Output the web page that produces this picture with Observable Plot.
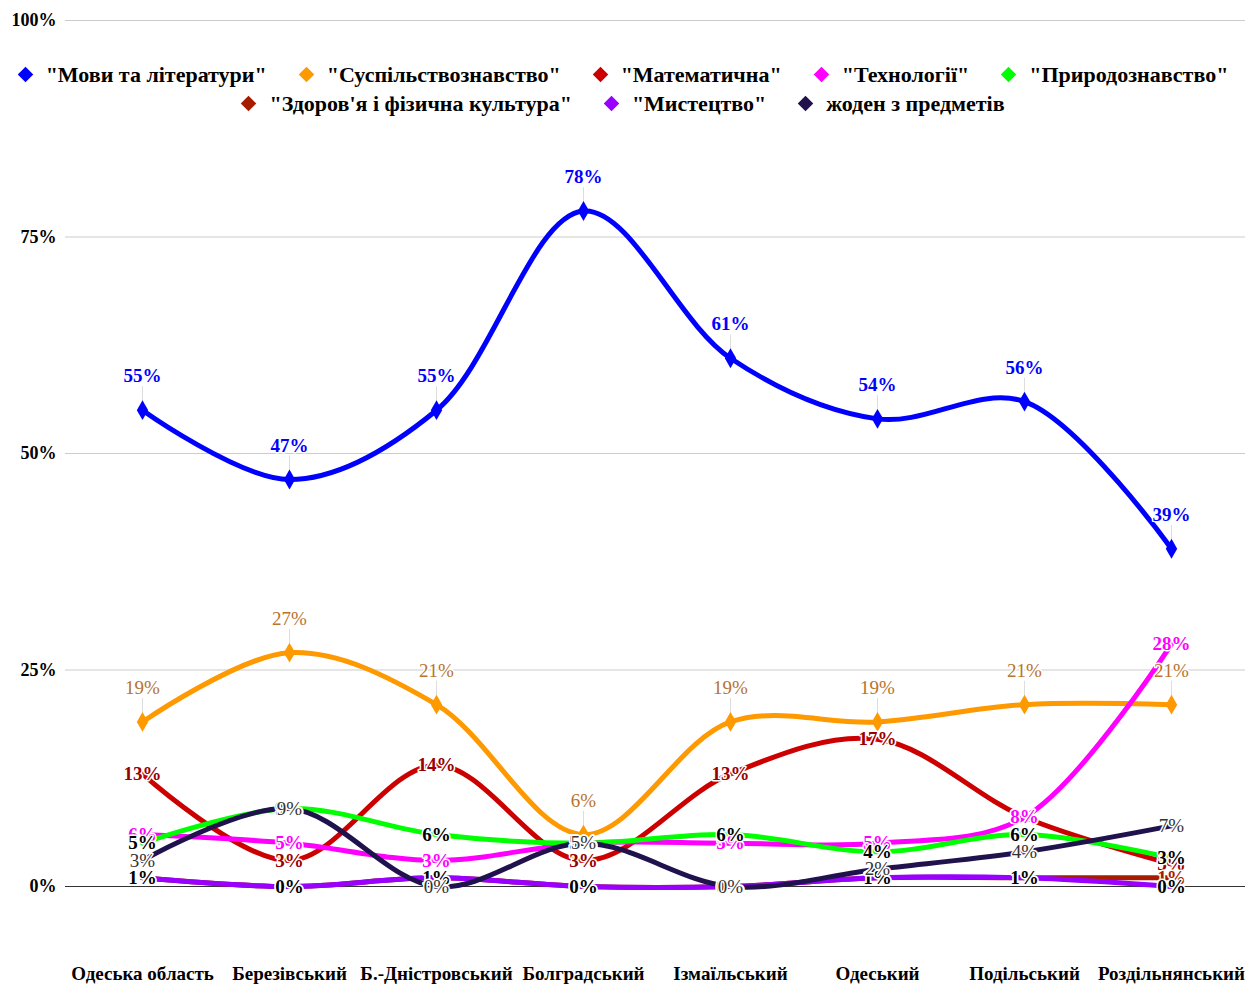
<!DOCTYPE html>
<html>
<head>
<meta charset="utf-8">
<script src="https://cdn.jsdelivr.net/npm/d3@7"></script>
<script src="https://cdn.jsdelivr.net/npm/@observablehq/plot@0.6"></script>
<style>
  body { margin: 0; background: #fff; }
  #wrap { position: relative; width: 1248px; height: 985px; font-family: "Liberation Serif", "DejaVu Serif", serif; }
  #legend { position: absolute; left: 0; top: 60px; width: 1248px; font-weight: bold; font-size: 22px; color: #000; }
  .row { display: flex; justify-content: center; align-items: center; height: 29px; }
  .item { display: flex; align-items: center; margin: 0 17px; white-space: nowrap; }
  .sw { width: 11px; height: 11px; transform: rotate(45deg); margin-right: 15px; }
</style>
</head>
<body>
<div id="wrap"><div id="legend"></div></div>
<script>
const categories = ["Одеська область", "Березівський", "Б.-Дністровський", "Болградський", "Ізмаїльський", "Одеський", "Подільський", "Роздільнянський"];
const seriesNames = ["\"Мови та літератури\"", "\"Суспільствознавство\"", "\"Математична\"", "\"Технології\"", "\"Природознавство\"", "\"Здоров'я і фізична культура\"", "\"Мистецтво\"", "жоден з предметів"];
const seriesColors = ["#0000ff", "#ff9900", "#cc0000", "#ff00ff", "#00ff00", "#a61c00", "#9900ff", "#20124d"];
const labelColors = ["#0000ff", "#b8732e", "#990000", "#ff00ff", "#000000", "#a61c00", "#000000", "#333333"];
const labelWeights = ["bold", "normal", "bold", "bold", "bold", "bold", "bold", "normal"];
const calloutSeries = [true, true, false, false, false, false, false, false];

const movy = [55, 47, 55, 78, 61, 54, 56, 39];
const suspil = [19, 27, 21, 6, 19, 19, 21, 21];
const matem = [13, 3, 14, 3, 13, 17, 8, 2.6];
const tekhn = [6, 5, 3, 5, 5, 5, 8, 28];
const pryrod = [5, 9, 6, 5, 6, 4, 6, 3.3];
const zdorov = [1, 0, 1, 0, 0, 1, 1, 1];
const mystets = [1, 0, 1, 0, 0, 1, 1, 0];
const zhoden = [3, 9, 0, 5, 0, 2, 4, 7];
const seriesValues = [movy, suspil, matem, tekhn, pryrod, zdorov, mystets, zhoden];

const yTicks = [0, 25, 50, 75, 100];

const series = seriesNames.map((name, i) => ({
  name, color: seriesColors[i], labelColor: labelColors[i], weight: labelWeights[i], callout: calloutSeries[i],
  rows: categories.map((cat, j) => ({cat, value: seriesValues[i][j]}))
}));

const fmt = d => Math.round(d) + "%";
const FONT = "'Liberation Serif', 'DejaVu Serif', serif";

const marks = [
  Plot.ruleY(yTicks.filter(d => d > 0), {stroke: "#cccccc", strokeWidth: 1}),
  Plot.axisY({ticks: yTicks, tickSize: 0, tickPadding: 9, tickFormat: d => d + "%", fontWeight: "bold", fontSize: 18, fontFamily: FONT, label: null}),
  Plot.axisX({tickSize: 0, tickPadding: 80, fontWeight: "bold", fontSize: 19, fontFamily: FONT, label: null}),
  Plot.ruleY([0], {stroke: "#333333", strokeWidth: 1.2})
];
for (const s of series) {
  marks.push(Plot.line(s.rows, {x: "cat", y: "value", stroke: s.color, strokeWidth: 5, curve: "catmull-rom"}));
}
for (const s of series) {
  if (s.callout) {
    marks.push(Plot.ruleX(s.rows, {x: "cat", y1: "value", y2: d => d.value + 2.7, stroke: "#dddddd", strokeWidth: 1}));
    marks.push(Plot.dot(s.rows, {x: "cat", y: "value", symbol: "diamond", fill: s.color, r: 6}));
  }
}
for (const s of series) {
  marks.push(Plot.text(s.rows, {
    x: "cat", y: "value", text: d => fmt(d.value), dy: s.callout ? -34 : 0,
    fill: s.labelColor, fontWeight: s.weight, fontSize: 19, fontFamily: FONT, stroke: "white", strokeWidth: 3,
    paintOrder: "stroke", lineAnchor: "middle", textAnchor: "middle"
  }));
}

const chart = Plot.plot({
  width: 1248, height: 985,
  marginTop: 20, marginBottom: 99, marginLeft: 65, marginRight: 3,
  style: {fontFamily: FONT, color: "#000", background: "#fff"},
  x: {type: "point", domain: categories, range: [140, 1173], padding: 0},
  y: {domain: [0, 100]},
  marks
});
document.getElementById("wrap").insertBefore(chart, document.getElementById("legend"));

const legend = document.getElementById("legend");
[[0, 5], [5, 8]].forEach(([a, b]) => {
  const row = document.createElement("div");
  row.className = "row";
  for (let i = a; i < b; i++) {
    const it = document.createElement("div");
    it.className = "item";
    const sw = document.createElement("span");
    sw.className = "sw";
    sw.style.background = seriesColors[i];
    const tx = document.createElement("span");
    tx.textContent = seriesNames[i];
    it.appendChild(sw); it.appendChild(tx);
    row.appendChild(it);
  }
  legend.appendChild(row);
});
</script>
</body>
</html>
